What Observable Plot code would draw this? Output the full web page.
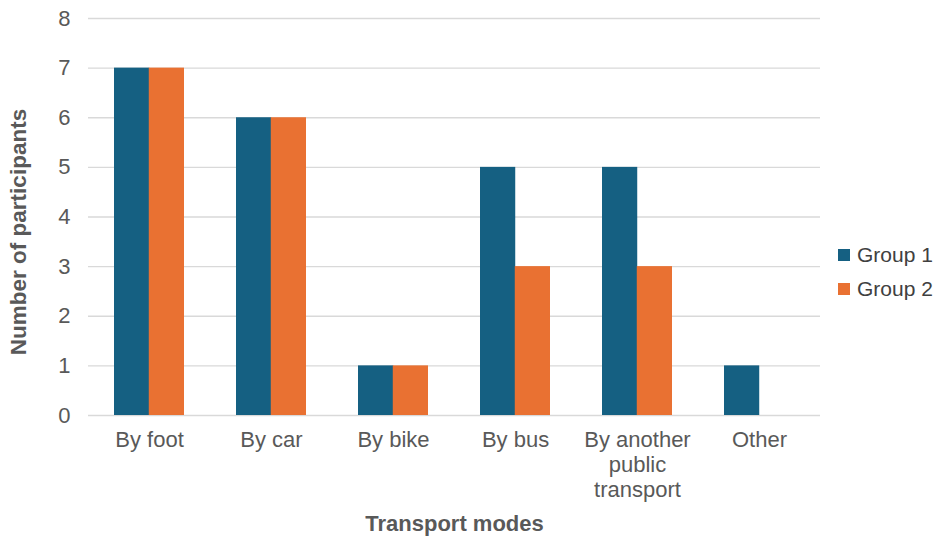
<!DOCTYPE html>
<html>
<head>
<meta charset="utf-8">
<script src="https://cdn.jsdelivr.net/npm/d3@7"></script>
<script src="https://cdn.jsdelivr.net/npm/@observablehq/plot@0.6"></script>
<style>
  body { margin: 0; background: #fff; font-family: "Liberation Sans", Arial, sans-serif; }
  #wrap { position: relative; width: 945px; height: 543px; }
  #legend { position: absolute; left: 838px; top: 238px; font-size: 21px; color: #404040; }
  #legend div { display: flex; align-items: center; height: 34px; }
  #legend span.sw { display: inline-block; width: 12px; height: 12px; margin-right: 7px; }
</style>
</head>
<body>
<div id="wrap"><div id="legend"></div></div>
<script>
const modes = ["By foot", "By car", "By bike", "By bus", "By another public transport", "Other"];
const modeTickLabels = ["By foot", "By car", "By bike", "By bus", "By another\npublic\ntransport", "Other"];
const seriesNames = ["Group 1", "Group 2"];
const group1 = [7, 6, 1, 5, 5, 1];
const group2 = [7, 6, 1, 3, 3, 0];
const yTicks = [0, 1, 2, 3, 4, 5, 6, 7, 8];
const colors = ["#156082", "#E97132"];

const data1 = modes.map((m, i) => ({mode: m, value: group1[i]}));
const data2 = modes.map((m, i) => ({mode: m, value: group2[i]}));

const W = 945, H = 543, mL = 88, mR = 125, mT = 18, mB = 128;
const padIn = 0.43, padOut = 0.215;
const step = (W - mL - mR) / (modes.length - padIn + 2 * padOut);
const bw = step * (1 - padIn);
const half = bw / 2;

const gray = "#595959";
const chart = Plot.plot({
  width: W, height: H,
  marginLeft: mL, marginRight: mR, marginTop: mT, marginBottom: mB,
  style: {fontFamily: "Liberation Sans, Arial, sans-serif", color: gray, background: "white"},
  x: {domain: modes, paddingInner: padIn, paddingOuter: padOut, label: null},
  y: {domain: [0, 8], label: null},
  marks: [
    Plot.ruleY(yTicks, {stroke: "#d9d9d9", strokeWidth: 1.3}),
    Plot.barY(data1, {x: "mode", y: "value", fill: colors[0], insetRight: half}),
    Plot.barY(data2, {x: "mode", y: "value", fill: colors[1], insetLeft: half}),
    Plot.axisY({ticks: yTicks, tickSize: 0, tickPadding: 18, fontSize: 22, label: null}),
    Plot.axisX({tickSize: 0, tickPadding: 14, fontSize: 22, lineHeight: 1.14, label: null,
      tickFormat: (d) => modeTickLabels[modes.indexOf(d)]}),
    Plot.text(["Number of participants"], {frameAnchor: "left", textAnchor: "middle", lineAnchor: "middle", rotate: -90, dx: -70, dy: 15, fontSize: 22.5, fontWeight: "bold", fill: gray}),
    Plot.text(["Transport modes"], {frameAnchor: "bottom", textAnchor: "middle", lineAnchor: "middle", dy: 108, fontSize: 22, fontWeight: "bold", fill: gray})
  ]
});
document.getElementById("wrap").prepend(chart);

const legend = document.getElementById("legend");
seriesNames.forEach((name, i) => {
  const row = document.createElement("div");
  const sw = document.createElement("span");
  sw.className = "sw";
  sw.style.background = colors[i];
  row.appendChild(sw);
  row.appendChild(document.createTextNode(name));
  legend.appendChild(row);
});
</script>
</body>
</html>
